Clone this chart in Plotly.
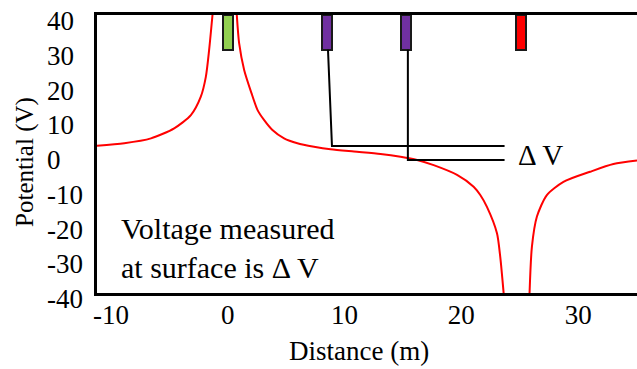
import plotly.graph_objects as go

# ---------------- data ----------------
# potential curve, three branches (left of source, between source & sink, right of sink)
left_x = [-11.2, -8.86, -6.58, -4.59, -3.16, -2.31, -1.88, -1.60, -1.31]
left_y = [2.4, 3.1, 4.5, 7.4, 11.2, 16.5, 22.2, 29.9, 40.0]

mid_x = [0.77, 0.97, 1.40, 2.03, 2.54, 3.10, 3.82, 4.82, 5.96, 7.38, 8.80, 10.80,
         13.08, 14.79, 16.21, 17.63, 19.63, 21.05, 21.62, 22.19, 23.05, 23.33, 23.62]
mid_y = [40.0, 31.9, 24.2, 17.5, 12.7, 9.8, 6.9, 4.5, 3.1, 2.1, 1.35, 0.7,
         0.0, -0.8, -1.7, -3.2, -6.0, -9.4, -11.8, -15.2, -22.8, -29.6, -40.0]

right_x = [25.84, 26.04, 26.47, 27.32, 28.74, 31.03, 33.02, 35.04]
right_y = [-40.0, -26.7, -18.0, -11.8, -8.0, -5.1, -2.9, -1.9]

# electrodes at the surface
electrode_x = [0.0, 8.5, 15.27, 25.13]
electrode_colors = ["#92D050", "#7030A0", "#7030A0", "#FF0000"]
electrode_top = 40
electrode_bottom = 30

# measurement wires from the two purple electrodes
wire1_x = [8.58, 8.92, 23.7]
wire1_y = [30, 2.3, 2.3]
wire2_x = [15.42, 15.42, 23.7]
wire2_y = [30, -1.7, -1.7]

x_tick_vals = [-10, 0, 10, 20, 30]
x_tick_text = ["-10", "0", "10", "20", "30"]
y_tick_vals = [40, 30, 20, 10, 0, -10, -20, -30, -40]
y_tick_text = ["40", "30", "20", "10", "0", "-10", "-20", "-30", "-40"]

FONT = "Liberation Serif"

# ---------------- figure ----------------
fig = go.Figure()

curve_x = left_x + [None] + mid_x + [None] + right_x
curve_y = left_y + [None] + mid_y + [None] + right_y
fig.add_trace(go.Scatter(x=curve_x, y=curve_y, mode="lines",
                         line=dict(color="#FF0000", width=2, shape="spline", smoothing=0.7),
                         connectgaps=False, hoverinfo="skip"))

for wx, wy in [(wire1_x, wire1_y), (wire2_x, wire2_y)]:
    fig.add_trace(go.Scatter(x=wx, y=wy, mode="lines",
                             line=dict(color="black", width=2), hoverinfo="skip"))

fig.add_trace(go.Bar(x=electrode_x,
                     y=[electrode_top - electrode_bottom] * len(electrode_x),
                     base=electrode_bottom, width=0.85,
                     marker=dict(color=electrode_colors, line=dict(color="#1a1a1a", width=2)),
                     hoverinfo="skip"))

annotations = []
for v, t in zip(y_tick_vals, y_tick_text):
    annotations.append(dict(text=t, xref="paper", yref="y", x=-0.097, y=v,
                            xanchor="left", yanchor="middle", yshift=-6,
                            showarrow=False, font=dict(family=FONT, size=27, color="black")))

annotations += [
    dict(text="Potential (V)", xref="paper", yref="paper", x=-0.133, y=0.472,
         textangle=-90, showarrow=False, xanchor="center", yanchor="middle",
         font=dict(family=FONT, size=25, color="black")),
    dict(text="Distance (m)", xref="paper", yref="paper", x=0.486, y=-0.21,
         showarrow=False, xanchor="center", yanchor="middle",
         font=dict(family=FONT, size=27, color="black")),
    dict(text="Voltage measured<br>at surface is Δ V", xref="x", yref="y",
         x=-9.3, y=-27.0, xanchor="left", yanchor="middle", align="left",
         showarrow=False, font=dict(family=FONT, size=30, color="black")),
    dict(text="Δ V", xref="x", yref="y", x=24.7, y=-0.3,
         xanchor="left", yanchor="middle", showarrow=False,
         font=dict(family=FONT, size=29, color="black")),
]

fig.update_layout(
    width=637, height=369,
    margin=dict(l=97, r=0, t=15, b=76),
    paper_bgcolor="white", plot_bgcolor="white",
    showlegend=False, bargap=0,
    annotations=annotations,
    xaxis=dict(range=[-11.2, 35.04], showgrid=False, zeroline=False,
               showline=True, linecolor="black", linewidth=2.5, mirror=True,
               tickvals=x_tick_vals, ticktext=x_tick_text,
               ticks="", ticklabelstandoff=-4,
               tickfont=dict(family=FONT, size=27, color="black")),
    yaxis=dict(range=[-40, 40], showgrid=False, zeroline=False,
               showline=True, linecolor="black", linewidth=2.5,
               showticklabels=False, ticks=""),
)

fig.write_html("out.html",
               config={"displayModeBar": False},
               post_script="document.body.style.margin='0';document.body.style.overflow='hidden';")
